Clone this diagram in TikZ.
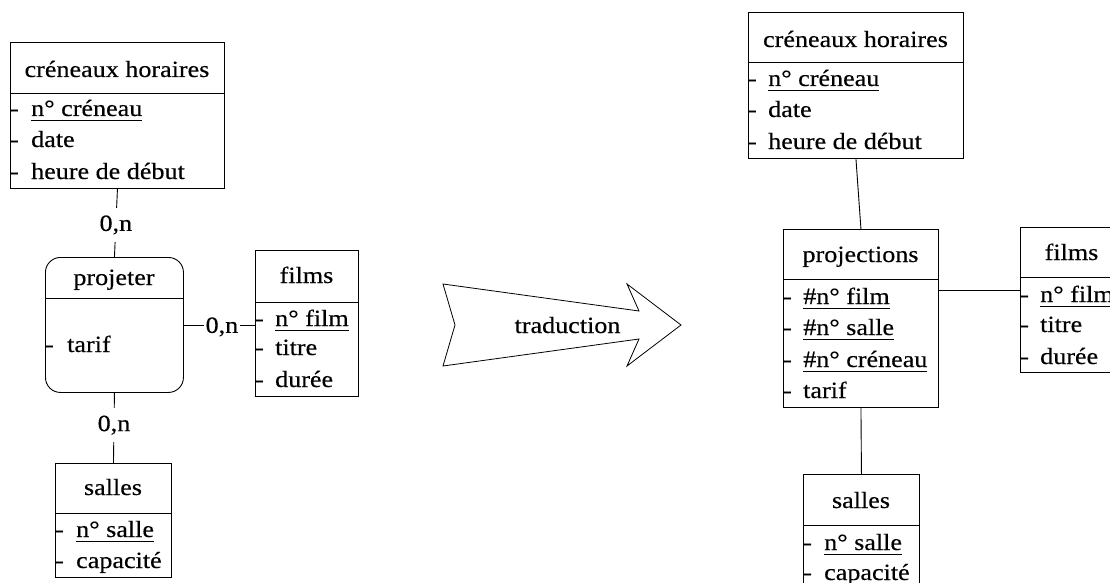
\documentclass[tikz,border=0pt]{standalone}
\usepackage{fontspec}
\setmainfont{Liberation Serif}[FakeStretch=1.12,FakeBold=0.4]
\newcommand\uln[1]{\setbox0\hbox{#1}\rlap{\rule[-5pt]{\wd0}{0.9pt}}\box0}
\begin{document}
\begin{tikzpicture}[x=1pt,y=-1pt,
  font=\fontsize{23.3}{28}\selectfont,
  ebox/.style={draw, line width=0.9pt, rectangle, inner sep=0pt, anchor=north west},
  ttl/.style={anchor=base, inner sep=0pt},
  attr/.style={anchor=base west, inner sep=0pt},
  card/.style={fill=white, inner xsep=1.5pt, inner ysep=7.5pt},
  link/.style={line width=0.9pt},
  sepl/.style={line width=0.9pt}]
\useasboundingbox (0,0) rectangle (1110,583);
\clip (0,0) rectangle (1110,583);

% ---------- left model ----------
\node[ebox, minimum width=214pt, minimum height=146pt] (ch) at (10,42) {};
\draw[sepl] (ch.west |- 0,93) -- (ch.east |- 0,93);
\node[ttl] (ch-t) at (117,77) {créneaux horaires};
\foreach \i/\yy/\tx in {1/116/{\uln{n° créneau}},2/147/{date},3/179/{heure de début}}{
  \node[attr] (ch-d\i) at (10,\yy) {-};
  \node[attr] (ch-a\i) at (31,\yy) {\tx};
}

\node[ebox, rounded corners=15pt, minimum width=138pt, minimum height=135pt] (pj) at (45,257) {};
\draw[sepl] (pj.west |- 0,298) -- (pj.east |- 0,298);
\node[ttl] (pj-t) at (114,285) {projeter};
\node[attr] (pj-d1) at (45,352) {-};
\node[attr] (pj-a1) at (67,352) {tarif};

\node[ebox, minimum width=103pt, minimum height=146pt] (fl) at (255,250) {};
\draw[sepl] (fl.west |- 0,302) -- (fl.east |- 0,302);
\node[ttl] (fl-t) at (306.5,283) {films};
\foreach \i/\yy/\tx in {1/326/{\uln{n° film}},2/355/{titre},3/387/{durée}}{
  \node[attr] (fl-d\i) at (255,\yy) {-};
  \node[attr] (fl-a\i) at (275,\yy) {\tx};
}

\node[ebox, minimum width=116pt, minimum height=114pt] (sl) at (55,463) {};
\draw[sepl] (sl.west |- 0,513) -- (sl.east |- 0,513);
\node[ttl] (sl-t) at (113,495) {salles};
\foreach \i/\yy/\tx in {1/537/{\uln{n° salle}},2/568/{capacité}}{
  \node[attr] (sl-d\i) at (55,\yy) {-};
  \node[attr] (sl-a\i) at (76,\yy) {\tx};
}

\draw[link] (ch.south) -- node[card, pos=0.53] (c1) {0,n} (pj.north);
\draw[link] (pj.east) -- node[card, pos=0.535, yshift=-2pt] (c2) {0,n} (pj.east -| fl.west);
\draw[link] (pj.south) -- node[card, pos=0.46] (c3) {0,n} (sl.north);

% ---------- arrow ----------
\draw[line width=0.8pt] (443,284) -- (639,311) -- (627,284) -- (681,325) -- (627,366)
  -- (639,339) -- (443,366) -- (455,325) -- cycle;
\node[ttl] (trad) at (567.5,333) {traduction};

% ---------- right model ----------
\node[ebox, minimum width=215pt, minimum height=146pt] (ch2) at (748,12) {};
\draw[sepl] (ch2.west |- 0,62) -- (ch2.east |- 0,62);
\node[ttl] (ch2-t) at (855.5,47) {créneaux horaires};
\foreach \i/\yy/\tx in {1/86/{\uln{n° créneau}},2/117/{date},3/149/{heure de début}}{
  \node[attr] (ch2-d\i) at (748,\yy) {-};
  \node[attr] (ch2-a\i) at (768,\yy) {\tx};
}

\node[ebox, minimum width=155pt, minimum height=178pt] (pr) at (783,229) {};
\draw[sepl] (pr.west |- 0,279) -- (pr.east |- 0,279);
\node[ttl] (pr-t) at (860.5,262) {projections};
\foreach \i/\yy/\tx in {1/304/{\uln{\#n° film}},2/335/{\uln{\#n° salle}},3/367/{\uln{\#n° créneau}},4/398/{tarif}}{
  \node[attr] (pr-d\i) at (783,\yy) {-};
  \node[attr] (pr-a\i) at (803,\yy) {\tx};
}

\node[ebox, minimum width=103pt, minimum height=145pt] (f2) at (1020,227) {};
\draw[sepl] (f2.west |- 0,277) -- (f2.east |- 0,277);
\node[ttl] (f2-t) at (1071.5,260) {films};
\foreach \i/\yy/\tx in {1/302/{\uln{n° film}},2/332/{titre},3/364/{durée}}{
  \node[attr] (f2-d\i) at (1020,\yy) {-};
  \node[attr] (f2-a\i) at (1040,\yy) {\tx};
}

\node[ebox, minimum width=116pt, minimum height=120pt] (s2) at (803,474) {};
\draw[sepl] (s2.west |- 0,525) -- (s2.east |- 0,525);
\node[ttl] (s2-t) at (861,508) {salles};
\foreach \i/\yy/\tx in {1/550/{\uln{n° salle}},2/580/{capacité}}{
  \node[attr] (s2-d\i) at (803,\yy) {-};
  \node[attr] (s2-a\i) at (824,\yy) {\tx};
}

\draw[link] (ch2.south) -- (pr.north);
\draw[link] ([yshift=-61pt]pr.north east) -- ([yshift=-61pt]pr.north east -| f2.west);
\draw[link] (pr.south) -- (s2.north);
\end{tikzpicture}
\end{document}
